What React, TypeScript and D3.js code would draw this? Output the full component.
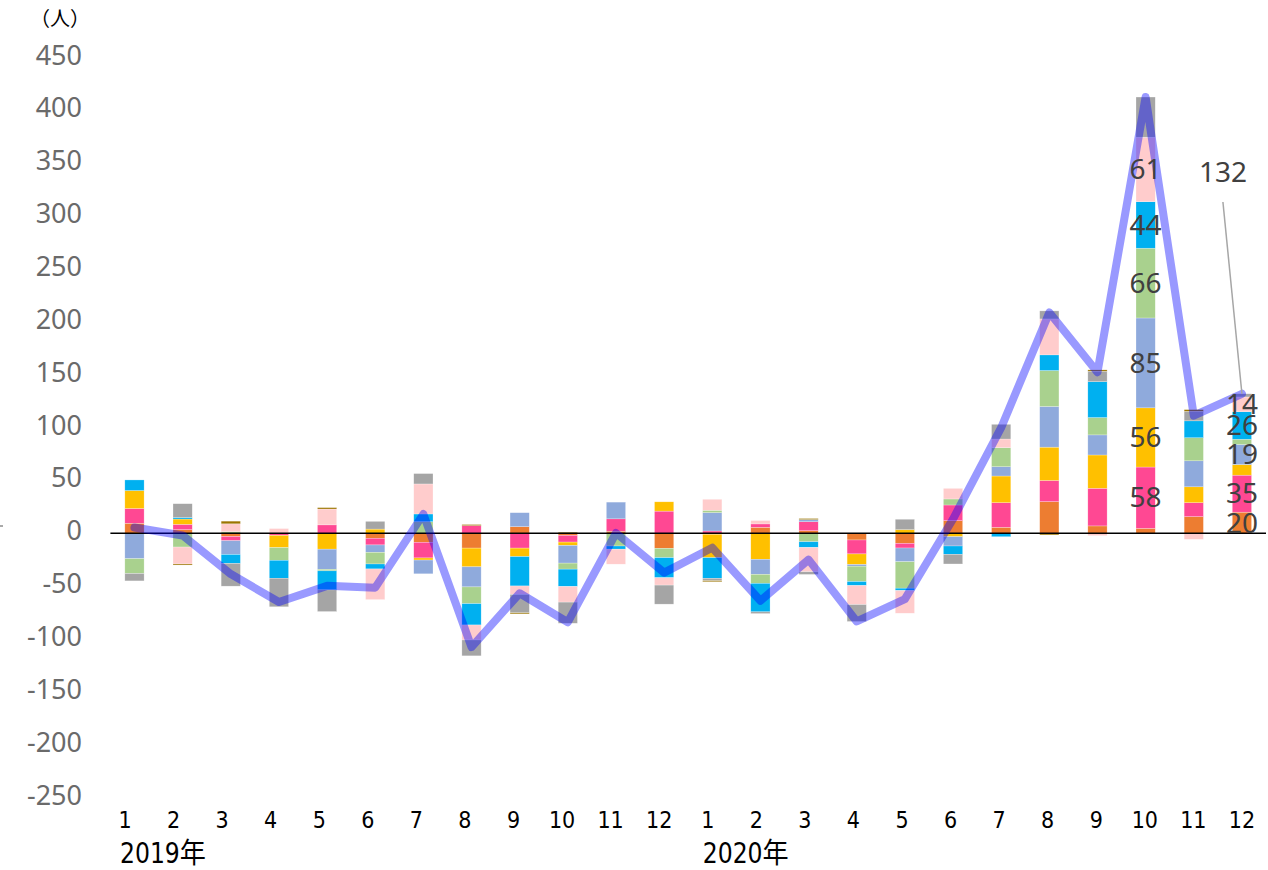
import React from "react";
import * as d3 from "d3";

const monthLabels = ["1","2","3","4","5","6","7","8","9","10","11","12","1","2","3","4","5","6","7","8","9","10","11","12"];
const yearLabels = [ { label: "2019年", index: 0 }, { label: "2020年", index: 12 } ];
const yTicks = [450, 400, 350, 300, 250, 200, 150, 100, 50, 0, -50, -100, -150, -200, -250];

// series values, per month (2019-1 ... 2020-12)
const sOrange =   [9.5, 3.5, -3, 0, 0, -4.7, -8.5, -14, 6.3, -2, 2, -14.2, -1, 5.7, 2.5, -6.3, -9.5, 12, 5.7, 30, 7, 4.7, 15.8, 20];
const sPink =     [14, 5, -4, -2, 8, -6.3, -14.8, 7.3, -14, -6.3, 11.7, 21, 2.2, 3.2, 8.5, -13.2, -4.4, 14.8, 23.3, 20, 35.6, 58, 13.2, 35];
const sYellow =   [17, 5, 0, -11.5, -15, 4, -2, -17.7, -8, -3.2, 0, 8.8, -22, -24.6, 0, -10, 3.5, -3.2, 25.2, 31.5, 31.5, 56, 15, 10];
const sBlueGrey = [-24, 0, -13, 0, -19, -7, -13, -19, 13.2, -16.7, 15.8, 0, 17.4, -14.2, 2, -1.6, -13, -8.8, 8.8, 38.5, 19, 85, 24.6, 19];
const sGreen =    [-14, -13, 1.5, -12, -1.5, -11, 11, -15.8, 0, -5.7, -12, -8.8, 2.2, -8.5, -8, -14.5, -25, 5.7, 18, 34, 16.4, 66, 21.8, 5];
const sCyan =     [10, 1.5, -8.5, -17, -18, -4.7, 7.3, -20.2, -27.8, -16.4, -3, -19, -19.6, -27, -5.4, -3.8, -2.2, -7.9, -3.2, 14.8, 34, 44, 16, 26];
const sLightPink =[0, -16, 7.5, 4.5, 15, -29, 28.4, -14.2, -8, -14.8, -14.2, -7, 10.4, 3.2, -23, -18, -21.5, 10, 8.2, 34, -2.2, 61, -5.7, 14];
const sGrey =     [-7, 13, -21.5, -27, -20.5, 7.3, 9.8, -15, -17.4, -20, 0, -18, -2.2, -1.6, -2.5, -16, 9.8, -9.1, 13.9, 7.6, 9.8, 38, 9, 3];
const sGold =     [0, -1, 2.5, 0, 1.3, 0, 0, 1, -1, 1, 0, 0, -1, 0, 1, 0, 0, 0, 0, -1.5, 1.3, 0, 1.6, 0];

const seriesKeys = ["orange","pink","yellow","bluegrey","green","cyan","lightpink","grey","gold"];
const seriesValues = [sOrange, sPink, sYellow, sBlueGrey, sGreen, sCyan, sLightPink, sGrey, sGold];
const seriesColors = ["#ED7D31","#FF4893","#FFC000","#8FAADC","#A9D18E","#00B0F0","#FFCCCC","#A5A5A5","#9C7500"];

// data labels shown on segments: [series key, month index]
const segmentLabels = [
  ["pink", 21], ["yellow", 21], ["bluegrey", 21], ["green", 21], ["cyan", 21], ["lightpink", 21],
  ["orange", 23], ["pink", 23], ["bluegrey", 23], ["cyan", 23], ["lightpink", 23],
];
const totalLabelIndex = 23;

export default function App() {
  const W = 1268, H = 870;
  const rows = monthLabels.map((m, i) => {
    const r: any = { idx: i };
    seriesKeys.forEach((k, j) => { r[k] = seriesValues[j][i]; });
    return r;
  });
  const totals = rows.map((r) => seriesKeys.reduce((a, k) => a + r[k], 0));

  const x = d3.scaleBand<number>().domain(d3.range(24)).range([110.4, 1266]).paddingInner(0.6).paddingOuter(0.3);
  const xLab = d3.scaleBand<number>().domain(d3.range(24)).range([100.7, 1266.2]);
  const y = d3.scaleLinear().domain([-250, 450]).range([797.6, 57.6]);

  const stack = d3.stack<any>().keys(seriesKeys).offset(d3.stackOffsetDiverging);
  const stacked = stack(rows);

  const cx = (i: number) => (x(i) as number) + x.bandwidth() / 2;
  const line = d3.line<number>().x((_, i) => cx(i)).y((v) => y(v));

  const tickFont = "'Noto Sans', 'Noto Sans CJK JP', sans-serif";
  const narrowFont = "'Liberation Sans Narrow', 'DejaVu Sans Condensed', 'Noto Sans CJK JP', sans-serif";

  const ti = totalLabelIndex;
  return (
    <div style={{ position: "absolute", left: 0, top: 0 }}>
      <svg width={W} height={H} style={{ display: "block", background: "#fff" }}>
        <text x={30} y={26} fontSize={20} fontFamily="'Noto Sans CJK JP', sans-serif" fill="#000">（人）</text>
        <line x1={0} x2={3} y1={526} y2={526} stroke="#555" strokeWidth={1} />
        {yTicks.map((t) => (
          <text key={t} x={82} y={y(t) - 2.5} dy="0.35em" textAnchor="end" fontSize={27} fontFamily={tickFont} fill="#6a6a6a">{t}</text>
        ))}
        {stacked.map((s, si) => (
          <g key={s.key} fill={seriesColors[si]}>
            {s.map((d, i) => {
              const y0 = y(d[0]), y1 = y(d[1]);
              const h = Math.abs(y1 - y0);
              if (h < 0.01) return null;
              return <rect key={i} x={x(i)} y={Math.min(y0, y1)} width={x.bandwidth()} height={h} stroke="#fff" strokeOpacity={0.5} strokeWidth={0.5} />;
            })}
          </g>
        ))}
        <line x1={110.4} x2={1266} y1={y(0)} y2={y(0)} stroke="#000" strokeWidth={1.5} />
        <path d={line(totals) || ""} fill="none" stroke="rgba(0,0,255,0.4)" strokeWidth={8} strokeLinejoin="round" strokeLinecap="round" />
        {segmentLabels.map(([k, i]) => {
          const si = seriesKeys.indexOf(k as string);
          const d = stacked[si][i as number];
          const v = seriesValues[si][i as number];
          return (
            <text key={`${k}-${i}`} x={cx(i as number)} y={y((d[0] + d[1]) / 2)} dy="0.35em" textAnchor="middle" fontSize={28} fontFamily={tickFont} fill="#404040">{Math.round(v)}</text>
          );
        })}
        <line x1={cx(ti) - 19} x2={cx(ti)} y1={202} y2={y(totals[ti])} stroke="#A6A6A6" strokeWidth={1.5} />
        <text x={cx(ti) - 19} y={172} dy="0.35em" textAnchor="middle" fontSize={28} fontFamily={tickFont} fill="#404040">{Math.round(totals[ti])}</text>
        {monthLabels.map((m, i) => (
          <text key={i} x={(xLab(i) as number) + xLab.bandwidth() / 2} y={828} textAnchor="middle" fontSize={23} fontFamily={narrowFont} fill="#000">{m}</text>
        ))}
        {yearLabels.map((yl) => (
          <text key={yl.label} x={(xLab(yl.index) as number) + xLab.bandwidth() / 2 - 5} y={863} textAnchor="start" fontSize={28} textLength={86} lengthAdjust="spacingAndGlyphs" fontFamily={narrowFont} fill="#000">{yl.label}</text>
        ))}
      </svg>
    </div>
  );
}
